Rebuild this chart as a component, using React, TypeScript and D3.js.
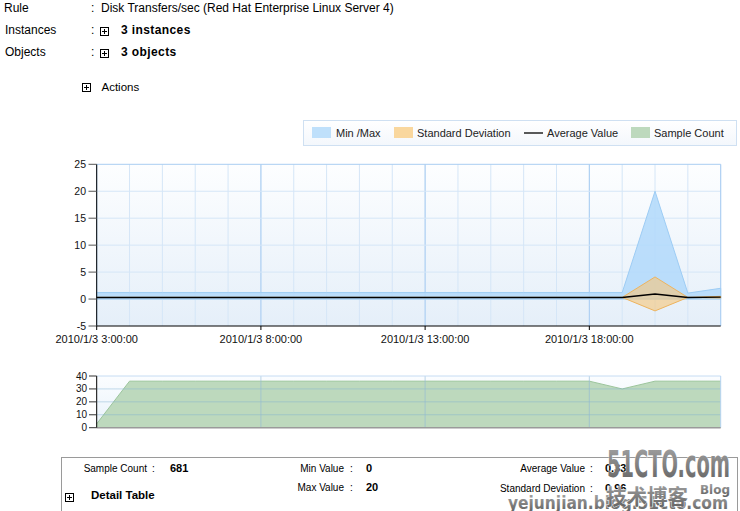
import React from "react";
import * as d3 from "d3";

const timeStamps = [
  "2010/1/3 3:00:00", "2010/1/3 4:00:00", "2010/1/3 5:00:00", "2010/1/3 6:00:00",
  "2010/1/3 7:00:00", "2010/1/3 8:00:00", "2010/1/3 9:00:00", "2010/1/3 10:00:00",
  "2010/1/3 11:00:00", "2010/1/3 12:00:00", "2010/1/3 13:00:00", "2010/1/3 14:00:00",
  "2010/1/3 15:00:00", "2010/1/3 16:00:00", "2010/1/3 17:00:00", "2010/1/3 18:00:00",
  "2010/1/3 19:00:00", "2010/1/3 20:00:00", "2010/1/3 21:00:00", "2010/1/3 22:00:00",
];
const minValues = [0, 0, 0, 0, 0, 0, 0, 0, 0, 0, 0, 0, 0, 0, 0, 0, 0, 0, 0, 0];
const maxValues = [1.2, 1.2, 1.2, 1.2, 1.2, 1.2, 1.2, 1.2, 1.2, 1.2, 1.2, 1.2, 1.2, 1.2, 1.2, 1.2, 1.2, 20, 1.1, 2];
const avgValues = [0.3, 0.3, 0.3, 0.3, 0.3, 0.3, 0.3, 0.3, 0.3, 0.3, 0.3, 0.3, 0.3, 0.3, 0.3, 0.3, 0.3, 0.95, 0.3, 0.35];
const stdValues = [0, 0, 0, 0, 0, 0, 0, 0, 0, 0, 0, 0, 0, 0, 0, 0, 0, 3.15, 0, 0.15];
const sampleCounts = [3, 36, 36, 36, 36, 36, 36, 36, 36, 36, 36, 36, 36, 36, 36, 36, 30, 36, 36, 36];

const xDomainLabels = ["2010/1/3 3:00:00", "2010/1/3 22:00:00"];
const xTickLabels = ["2010/1/3 3:00:00", "2010/1/3 8:00:00", "2010/1/3 13:00:00", "2010/1/3 18:00:00"];
const yTicks = [-5, 0, 5, 10, 15, 20, 25];
const countTicks = [0, 10, 20, 30, 40];

const legendItems = ["Min /Max", "Standard Deviation", "Average Value", "Sample Count"];

const parse = d3.timeParse("%Y/%m/%d %H:%M:%S");

const FONT = "'Liberation Sans', Arial, sans-serif";

function Plus({ x, y }: { x: number; y: number }) {
  return (
    <g>
      <rect x={x + 0.5} y={y + 0.5} width={8} height={8} fill="#fff" stroke="#000" strokeWidth={1} />
      <line x1={x + 2} x2={x + 7} y1={y + 4.5} y2={y + 4.5} stroke="#000" />
      <line x1={x + 4.5} x2={x + 4.5} y1={y + 2} y2={y + 7} stroke="#000" />
    </g>
  );
}

export default function App() {
  const dates = timeStamps.map((t) => parse(t) as Date);
  const L = 96.7, R = 720.7;
  const x = d3.scaleTime().domain(xDomainLabels.map((t) => parse(t) as Date)).range([L, R]);
  const y = d3.scaleLinear().domain([-5, 25]).range([326, 164.3]);
  const yc = d3.scaleLinear().domain([0, 40]).range([427.7, 376]);

  const rows = dates.map((d, i) => ({
    d, min: minValues[i], max: maxValues[i], avg: avgValues[i], std: stdValues[i], n: sampleCounts[i],
  }));

  const minMaxArea = d3.area<any>().x((r) => x(r.d)).y0((r) => y(r.min)).y1((r) => y(r.max))(rows) || "";
  const stdArea = d3.area<any>().x((r) => x(r.d)).y0((r) => y(r.avg - r.std)).y1((r) => y(r.avg + r.std))(rows) || "";
  const avgLine = d3.line<any>().x((r) => x(r.d)).y((r) => y(r.avg))(rows) || "";
  const countArea = d3.area<any>().x((r) => x(r.d)).y0(yc(0)).y1((r) => yc(r.n))(rows) || "";
  const countLine = d3.line<any>().x((r) => x(r.d)).y((r) => yc(r.n))(rows) || "";

  const hourTicks = x.ticks(d3.timeHour.every(1) as any);
  const majorTicks = xTickLabels.map((t) => parse(t) as Date);

  const legendX = [312, 394, 524, 631];
  const legendTextX = [336, 417, 547, 654];

  return (
    <svg width={740} height={511} style={{ position: "absolute", left: 0, top: 0 }} fontFamily={FONT}>
      <defs>
        <linearGradient id="bg" x1="0" y1="0" x2="0" y2="1">
          <stop offset="0" stopColor="#fdfeff" />
          <stop offset="1" stopColor="#e5eff9" />
        </linearGradient>
        <linearGradient id="bg2" x1="0" y1="0" x2="0" y2="1">
          <stop offset="0" stopColor="#fbfdff" />
          <stop offset="1" stopColor="#e9f2fb" />
        </linearGradient>
        <linearGradient id="lg" x1="0" y1="0" x2="0" y2="1">
          <stop offset="0" stopColor="#ffffff" />
          <stop offset="1" stopColor="#f3f7fc" />
        </linearGradient>
        <linearGradient id="wm" x1="0" y1="0" x2="0" y2="1">
          <stop offset="0" stopColor="#a8a8a8" />
          <stop offset="1" stopColor="#5e5e5e" />
        </linearGradient>
      </defs>
      <rect width={740} height={511} fill="#fff" />

      {/* header */}
      <g fontSize={12} fill="#000">
        <text x={4} y={12}>Rule</text>
        <text x={5} y={34}>Instances</text>
        <text x={5} y={56}>Objects</text>
        <text x={91} y={12}>:</text>
        <text x={91} y={34}>:</text>
        <text x={91} y={56}>:</text>
        <text x={101} y={12}>Disk Transfers/sec (Red Hat Enterprise Linux Server 4)</text>
        <Plus x={100} y={27} />
        <Plus x={100} y={49} />
        <text x={121} y={34} fontWeight="bold" letterSpacing={0.4}>3 instances</text>
        <text x={121} y={56} fontWeight="bold" letterSpacing={0.4}>3 objects</text>
        <Plus x={82} y={83} />
        <text x={101.5} y={91} fontSize={11.5}>Actions</text>
      </g>

      {/* legend */}
      <rect x={303.5} y={120.5} width={433} height={25} fill="url(#lg)" stroke="#cfe0f2" />
      <g fontSize={11} fill="#222">
        <rect x={legendX[0]} y={127} width={19} height={11} fill="#bfe0fb" />
        <rect x={legendX[1]} y={127} width={19} height={11} fill="#f9d79e" />
        <line x1={legendX[2]} x2={legendX[2] + 19} y1={133} y2={133} stroke="#000" strokeWidth={1.3} />
        <rect x={legendX[3]} y={127} width={19} height={11} fill="#bdd9bd" />
        {legendItems.map((t, i) => (
          <text key={t} x={legendTextX[i]} y={136.5}>{t}</text>
        ))}
      </g>

      {/* main chart */}
      <rect x={L} y={164.3} width={R - L} height={326 - 164.3} fill="url(#bg)" />
      {hourTicks.map((d, i) => (
        <line key={"vg" + i} x1={x(d)} x2={x(d)} y1={164.3} y2={326} stroke="#d5e6f7" />
      ))}
      {majorTicks.map((d, i) => (
        <line key={"vm" + i} x1={x(d)} x2={x(d)} y1={164.3} y2={326} stroke="#a9cdf2" />
      ))}
      {yTicks.slice(1, -1).map((v) => (
        <line key={"hg" + v} x1={L} x2={R} y1={y(v)} y2={y(v)} stroke="#d5e6f7" />
      ))}
      <line x1={L} x2={R} y1={164.3} y2={164.3} stroke="#a9cdf2" />
      <line x1={R} x2={R} y1={164.3} y2={326} stroke="#a9cdf2" />

      <path d={minMaxArea} fill="#b3d9fa" fillOpacity={0.88} stroke="#9dccf4" strokeWidth={1} />
      <path d={stdArea} fill="#f6c77c" fillOpacity={0.62} stroke="#eeb45e" strokeWidth={1} />
      <path d={avgLine} fill="none" stroke="#000" strokeWidth={1.4} />

      {/* axes main */}
      <line x1={L} x2={L} y1={164.3} y2={326} stroke="#000" />
      <line x1={L} x2={R} y1={326} y2={326} stroke="#000" />
      {yTicks.map((v) => (
        <g key={"yt" + v}>
          <line x1={88.5} x2={L} y1={y(v)} y2={y(v)} stroke="#555" />
          <text x={86} y={y(v) + 3.5} textAnchor="end" fontSize={10.5} fill="#111">{v}</text>
        </g>
      ))}
      {majorTicks.map((d, i) => (
        <g key={"xt" + i}>
          <line x1={x(d)} x2={x(d)} y1={326} y2={330} stroke="#000" />
          <text x={x(d)} y={343} textAnchor="middle" fontSize={11} fill="#111">{xTickLabels[i]}</text>
        </g>
      ))}

      {/* sample count chart */}
      <rect x={L} y={376} width={R - L} height={427.7 - 376} fill="url(#bg2)" />
      <path d={countArea} fill="#bdd9bd" />
      <path d={countLine} fill="none" stroke="#9cc59c" strokeWidth={1} />
      {countTicks.slice(1, -1).map((v) => (
        <line key={"cg" + v} x1={L} x2={R} y1={yc(v)} y2={yc(v)} stroke="#7fb0d0" strokeOpacity={0.45} />
      ))}
      {majorTicks.slice(1).map((d, i) => (
        <line key={"cv" + i} x1={x(d)} x2={x(d)} y1={376} y2={427.7} stroke="#8fb8d6" strokeOpacity={0.6} />
      ))}
      <line x1={L} x2={R} y1={376} y2={376} stroke="#c6dcf3" />
      <line x1={R} x2={R} y1={376} y2={427.7} stroke="#b5d3f2" />
      <line x1={L} x2={R} y1={427.7} y2={427.7} stroke="#9a9a9a" strokeWidth={1.5} />
      <line x1={L} x2={L} y1={376} y2={427.7} stroke="#000" />
      {countTicks.map((v) => (
        <g key={"ct" + v}>
          <line x1={89} x2={L} y1={yc(v)} y2={yc(v)} stroke="#333" />
          <text x={87} y={yc(v) + 3.5} textAnchor="end" fontSize={10} fill="#111">{v}</text>
        </g>
      ))}

      {/* bottom summary box */}
      <rect x={61.5} y={457.5} width={676} height={60} fill="#fff" stroke="#9a9a9a" />
      <g fontSize={10} fill="#000">
        <text x={147} y={472} textAnchor="end">Sample Count</text>
        <text x={152} y={472}>:</text>
        <text x={170} y={472} fontWeight="bold" fontSize={11}>681</text>
        <Plus x={65} y={493} />
        <text x={91} y={499} fontWeight="bold" fontSize={11.5}>Detail Table</text>
        <text x={344} y={472} textAnchor="end">Min Value</text>
        <text x={350} y={472}>:</text>
        <text x={366} y={472} fontWeight="bold" fontSize={11}>0</text>
        <text x={344} y={491} textAnchor="end">Max Value</text>
        <text x={350} y={491}>:</text>
        <text x={366} y={491} fontWeight="bold" fontSize={11}>20</text>
        <text x={585} y={472} textAnchor="end">Average Value</text>
        <text x={590} y={472}>:</text>
        <text x={605} y={472} fontWeight="bold" fontSize={11}>0.33</text>
        <text x={585} y={492} textAnchor="end">Standard Deviation</text>
        <text x={590} y={492}>:</text>
        <text x={605} y={492} fontWeight="bold" fontSize={11}>0.96</text>
      </g>

      {/* watermark */}
      <g fontFamily="'DejaVu Sans', sans-serif" fontWeight="bold" fill="url(#wm)" stroke="#fff" strokeWidth={0.8} paintOrder="stroke">
        <text x={607} y={477} fontSize={38} textLength={123} lengthAdjust="spacingAndGlyphs">51CTO.com</text>
        <text x={508} y={509} fontSize={17} textLength={220} lengthAdjust="spacingAndGlyphs">yejunjian.blog.51cto.com</text>
        <text x={606} y={504} fontSize={21} fontFamily="'Noto Sans CJK SC', sans-serif" textLength={82} lengthAdjust="spacingAndGlyphs">技术博客</text>
        <text x={700} y={494} fontSize={13} textLength={30} lengthAdjust="spacingAndGlyphs">Blog</text>
      </g>
    </svg>
  );
}
